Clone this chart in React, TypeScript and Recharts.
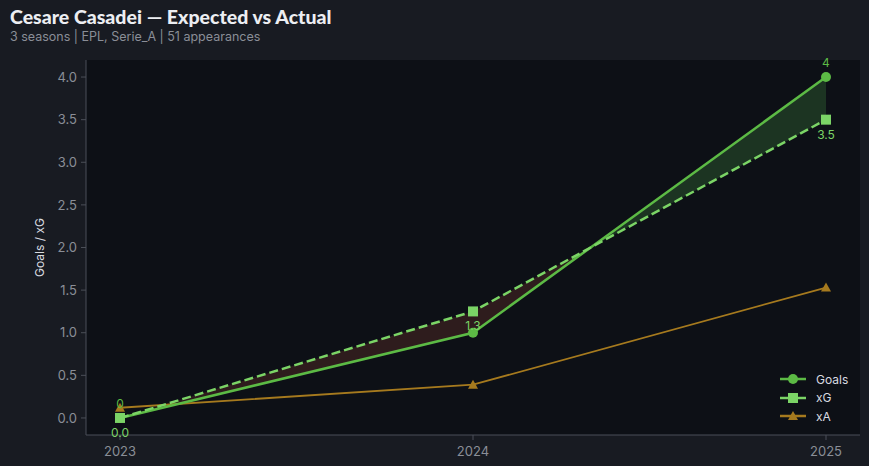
import React from "react";
import {
  ComposedChart,
  Line,
  Area,
  XAxis,
  YAxis,
  CartesianGrid,
} from "recharts";

const seasons = ["2023", "2024", "2025"];
const goals = [0, 1, 4];
const xG = [0, 1.25, 3.5];
const xA = [0.12, 0.39, 1.53];
const yTicks = [0, 0.5, 1, 1.5, 2, 2.5, 3, 3.5, 4];

const GOALS_COLOR = "#5cba45";
const XG_COLOR = "#7bd466";
const XA_COLOR = "#a67a1e";
const OVER_FILL = "#1c3422";
const UNDER_FILL = "#2e1c1d";

const data = seasons.map((s, i) => ({
  season: s,
  goals: goals[i],
  xG: xG[i],
  xA: xA[i],
  band: [xG[i], goals[i]],
}));

// horizontal gradient stops: green where goals beat xG, red where they fall short
function bandStops() {
  const n = seasons.length - 1;
  const stops: { offset: number; color: string }[] = [];
  for (let i = 0; i < n; i++) {
    const d0 = goals[i] - xG[i];
    const d1 = goals[i + 1] - xG[i + 1];
    const a = i / n;
    const b = (i + 1) / n;
    if (d0 * d1 < 0) {
      const t = d0 / (d0 - d1);
      const mid = a + (b - a) * t;
      stops.push({ offset: a, color: d0 > 0 ? OVER_FILL : UNDER_FILL });
      stops.push({ offset: mid, color: d0 > 0 ? OVER_FILL : UNDER_FILL });
      stops.push({ offset: mid, color: d1 > 0 ? OVER_FILL : UNDER_FILL });
      stops.push({ offset: b, color: d1 > 0 ? OVER_FILL : UNDER_FILL });
    } else {
      const c = d0 + d1 >= 0 ? OVER_FILL : UNDER_FILL;
      stops.push({ offset: a, color: c });
      stops.push({ offset: b, color: c });
    }
  }
  return stops;
}

const GoalsDot = (p: any) => (
  <circle key={"g" + p.index} cx={p.cx} cy={p.cy} r={5} fill={GOALS_COLOR} />
);
const XgDot = (p: any) => (
  <rect key={"x" + p.index} x={p.cx - 5} y={p.cy - 5} width={10} height={10} fill={XG_COLOR} />
);
const XaDot = (p: any) => (
  <path
    key={"a" + p.index}
    d={`M${p.cx},${p.cy - 5} L${p.cx + 5},${p.cy + 4} L${p.cx - 5},${p.cy + 4} Z`}
    fill={XA_COLOR}
  />
);

const goalsLabel = (p: any) => {
  if (goals[p.index] < xG[p.index]) return null;
  return (
    <text key={"gl" + p.index} x={p.x} y={p.y - 10} textAnchor="middle" fontSize={12} fontFamily="Inter, sans-serif" fill={GOALS_COLOR}>
      {String(p.value)}
    </text>
  );
};
const xgLabel = (p: any) => (
  <text key={"xl" + p.index} x={p.x} y={p.y + 19} textAnchor="middle" fontSize={12} fontFamily="Inter, sans-serif" fill={XG_COLOR}>
    {Number(p.value).toFixed(1)}
  </text>
);

const legendItems = [
  { name: "Goals", color: GOALS_COLOR, kind: "circle" },
  { name: "xG", color: XG_COLOR, kind: "square" },
  { name: "xA", color: XA_COLOR, kind: "triangle" },
];

const LegendBox = () => (
  <div
    style={{
      position: "absolute",
      left: 779,
      top: 370,
      fontFamily: "Inter, sans-serif",
      fontSize: 12,
      color: "#d9dbe0",
    }}
  >
    {legendItems.map((it) => (
      <div key={it.name} style={{ display: "flex", alignItems: "center", height: 18.5 }}>
        <svg width={28} height={12} style={{ marginRight: 9 }}>
          <line x1={1} x2={27} y1={6} y2={6} stroke={it.color} strokeWidth={2.5} />
          {it.kind === "circle" && <circle cx={14} cy={6} r={5} fill={it.color} />}
          {it.kind === "square" && <rect x={9} y={1} width={10} height={10} fill={it.color} />}
          {it.kind === "triangle" && <path d="M14,1 L19,10 L9,10 Z" fill={it.color} />}
        </svg>
        <span>{it.name}</span>
      </div>
    ))}
  </div>
);

export default function App() {
  const stops = bandStops();
  return (
    <div
      style={{
        position: "absolute",
        left: 0,
        top: 0,
        width: 869,
        height: 466,
        background: "#181b22",
        overflow: "hidden",
      }}
    >
      <div
        style={{
          position: "absolute",
          left: 10,
          top: 5,
          fontFamily: "Lato, sans-serif",
          fontWeight: 900,
          fontSize: 19.5,
          color: "#eceef2",
        }}
      >
        Cesare Casadei — Expected vs Actual
      </div>
      <div
        style={{
          position: "absolute",
          left: 10,
          top: 29,
          fontFamily: "Inter, sans-serif",
          fontSize: 12.5,
          color: "#8a8e97",
        }}
      >
        3 seasons | EPL, Serie_A | 51 appearances
      </div>
      <ComposedChart
        width={869}
        height={466}
        data={data}
        margin={{ top: 60, right: 9, bottom: 0, left: 0 }}
        style={{ position: "absolute", left: 0, top: 0 }}
      >
        <defs>
          <linearGradient id="bandFill" x1="0" y1="0" x2="1" y2="0">
            {stops.map((s, i) => (
              <stop key={i} offset={s.offset} stopColor={s.color} />
            ))}
          </linearGradient>
        </defs>
        <CartesianGrid fill="#0d1016" horizontal={false} vertical={false} />
        <XAxis
          dataKey="season"
          height={31}
          padding={{ left: 34, right: 34 }}
          stroke="#4b4f58"
          tick={{ fill: "#8a8e97", fontSize: 13, fontFamily: "Inter, sans-serif" }}
          tickSize={5}
          tickMargin={7}
        />
        <YAxis
          width={86}
          domain={[-0.2, 4.2]}
          ticks={yTicks}
          tickFormatter={(v: number) => v.toFixed(1)}
          stroke="#4b4f58"
          tick={{ fill: "#8a8e97", fontSize: 13, fontFamily: "Inter, sans-serif" }}
          tickSize={5}
          tickMargin={4}
          label={{
            value: "Goals / xG",
            angle: -90,
            position: "insideLeft",
            offset: 40,
            style: { fill: "#d9dbe0", fontSize: 12, fontFamily: "Inter, sans-serif", textAnchor: "middle" },
          }}
        />
        <Area
          dataKey="band"
          type="linear"
          stroke="none"
          fill="url(#bandFill)"
          fillOpacity={1}
          isAnimationActive={false}
          legendType="none"
        />
        <Line
          dataKey="xA"
          type="linear"
          stroke={XA_COLOR}
          strokeWidth={1.8}
          dot={XaDot}
          activeDot={false}
          isAnimationActive={false}
        />
        <Line
          dataKey="goals"
          type="linear"
          stroke={GOALS_COLOR}
          strokeWidth={2.5}
          dot={GoalsDot}
          activeDot={false}
          label={goalsLabel}
          isAnimationActive={false}
        />
        <Line
          dataKey="xG"
          type="linear"
          stroke={XG_COLOR}
          strokeWidth={2.5}
          strokeDasharray="9 4"
          dot={XgDot}
          activeDot={false}
          label={xgLabel}
          isAnimationActive={false}
        />
      </ComposedChart>
      <LegendBox />
    </div>
  );
}
